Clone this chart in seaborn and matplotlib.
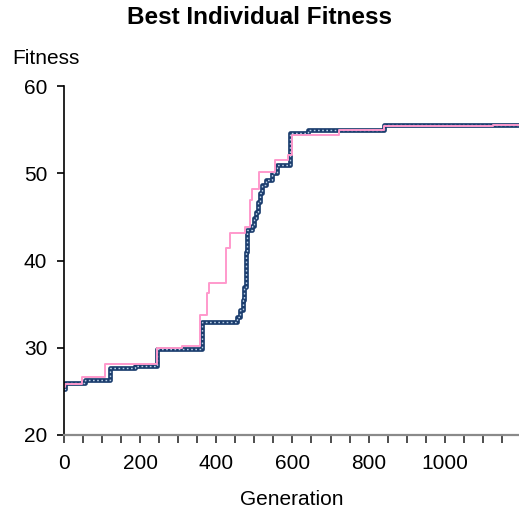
import matplotlib
matplotlib.use("Agg")
import matplotlib.pyplot as plt
import seaborn as sns
import pandas as pd

# Series 1 (navy, patterned) step data: generation, best fitness
gen_a = [0, 3, 55, 121, 187, 244, 363, 455, 462, 470, 474, 478, 481, 495, 500, 505, 510, 515, 520, 530, 545, 560, 594, 642, 840, 1195]
fit_a = [25.3, 26.0, 26.3, 27.7, 27.9, 29.9, 33.0, 33.5, 34.3, 35.5, 37.0, 41.0, 43.5, 44.0, 44.9, 45.6, 46.7, 47.7, 48.6, 49.2, 50.0, 50.9, 54.6, 55.0, 55.5, 55.5]

# Series 2 (pink) step data
gen_b = [0, 3, 47, 108, 244, 311, 358, 362, 376, 382, 426, 437, 476, 489, 493, 511, 555, 587, 600, 721, 840, 1126, 1195]
fit_b = [25.5, 25.9, 26.6, 28.1, 30.0, 30.2, 33.7, 33.7, 36.3, 37.4, 41.4, 43.1, 43.8, 46.9, 48.2, 50.2, 51.5, 52.1, 54.4, 54.9, 55.4, 55.5, 55.5]

x_ticks = list(range(0, 1200, 50))
x_labels = [str(t) if (t % 200 == 0 and t <= 1000) else "" for t in x_ticks]
y_ticks = [20, 30, 40, 50, 60]

sns.set_theme(style="white")
plt.rcParams["font.family"] = ["Liberation Sans", "DejaVu Sans"]
plt.rcParams["text.color"] = "black"
plt.rcParams["axes.labelcolor"] = "black"
plt.rcParams["xtick.color"] = "black"
plt.rcParams["ytick.color"] = "black"

df_a = pd.DataFrame({"Generation": gen_a, "Fitness": fit_a})
df_b = pd.DataFrame({"Generation": gen_b, "Fitness": fit_b})

fig = plt.figure(figsize=(5.19, 5.13), dpi=100)
ax = fig.add_axes([64 / 519, 78 / 513, 455 / 519, 349 / 513])

sns.lineplot(data=df_a, x="Generation", y="Fitness", ax=ax, drawstyle="steps-post",
             color="#1b3d6e", linewidth=3.4, estimator=None, sort=False)
sns.lineplot(data=df_a, x="Generation", y="Fitness", ax=ax, drawstyle="steps-post",
             color="#b9cfe6", linewidth=1.0, linestyle=(0, (1.2, 1.8)), estimator=None, sort=False)
sns.lineplot(data=df_b, x="Generation", y="Fitness", ax=ax, drawstyle="steps-post",
             color="#ff99cc", linewidth=1.4, estimator=None, sort=False)

ax.set_xlim(0, 1195)
ax.set_ylim(20, 60)
ax.set_xticks(x_ticks)
ax.set_xticklabels(x_labels)
ax.set_yticks(y_ticks)
ax.tick_params(axis="x", direction="out", length=6, width=1.2, color="#303030", labelsize=15, pad=8, bottom=True, labelcolor="black")
ax.tick_params(axis="y", direction="out", length=5, width=1.2, color="#000000", labelsize=15, pad=7, left=True, labelcolor="black")

for s in ["top", "right"]:
    ax.spines[s].set_visible(False)
ax.spines["left"].set_color("#000000")
ax.spines["left"].set_linewidth(1.2)
ax.spines["bottom"].set_color("#8a8a8a")
ax.spines["bottom"].set_linewidth(1.6)

ax.set_xlabel("Generation", fontsize=15, labelpad=12, color="black")
ax.set_ylabel("")
fig.text(12 / 519, 1 - 58 / 513, "Fitness", fontsize=15, ha="left", va="center", color="black")
fig.text(0.5, 1 - 18 / 513, "Best Individual Fitness", fontsize=17.5, fontweight="bold", ha="center", va="center", color="black")

fig.savefig("out.png", dpi=100)
